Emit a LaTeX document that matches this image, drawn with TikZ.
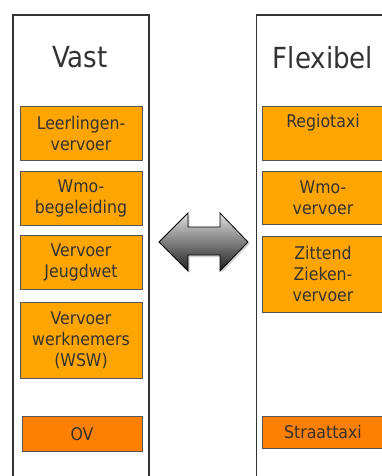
\documentclass[tikz,border=0pt]{standalone}
\usepackage{fontspec}
\setmainfont{DejaVu Sans Condensed}
\usetikzlibrary{shadows,shapes.misc}
\definecolor{boxfill}{HTML}{FFA500}
\definecolor{boxdark}{HTML}{FF7F00}
\definecolor{edge}{HTML}{555555}
\definecolor{ink}{HTML}{333333}
\definecolor{colline}{HTML}{333333}
\tikzset{
  x=1pt, y=-1pt,
  column/.style={draw=colline, line width=1.4pt, fill=white},
  heading/.style={text=ink, font=\fontsize{29}{34}\selectfont, inner sep=0pt},
  item/.style={draw=edge, line width=0.9pt, fill=boxfill},
  itemdark/.style={item, fill=boxdark},
  itemtext/.style={text=ink, font=\fontsize{17.5}{21}\selectfont, align=center, inner sep=0pt},
}
\begin{document}
\begin{tikzpicture}
\useasboundingbox (0,0) rectangle (382,476);
\clip (0,0) rectangle (382,476);

% the two columns
\draw[column] (13,15) rectangle (149,500);
\draw[column] (256.5,15) rectangle (420,500);
\node[heading] (vast) at (80,57) {Vast};
\node[heading] (flex) at (323,58) {Flexibel};

% fixed transport
\draw[item] (20,106) rectangle (142,160);
\node[itemtext] (lv) at (81,133) {Leerlingen-\\vervoer};
\draw[item] (20,171) rectangle (142,225);
\node[itemtext] (wb) at (81,198) {Wmo-\\begeleiding};
\draw[item] (20,235) rectangle (142,289);
\node[itemtext] (vj) at (81,262) {Vervoer\\Jeugdwet};
\draw[item] (20,302) rectangle (142,378);
\node[itemtext] (vw) at (81,340) {Vervoer\\werknemers\\(WSW)};
\draw[itemdark] (22,416) rectangle (142,451);
\node[itemtext] (ov) at (82,434) {OV};

% flexible transport
\draw[item] (262,106) rectangle (386,160);
\node[itemtext] (rt) at (323,123) {Regiotaxi};
\draw[item] (262,171) rectangle (386,224);
\node[itemtext] (wv) at (323,198) {Wmo-\\vervoer};
\draw[item] (262,236) rectangle (386,312);
\node[itemtext] (zz) at (323,274) {Zittend\\Zieken-\\vervoer};
\draw[itemdark] (262,416) rectangle (386,448);
\node[itemtext] (st) at (323,432) {Straattaxi};

% double arrow between the columns
\draw[draw=black, line width=0.8pt, top color=gray!25, bottom color=black!88,
      drop shadow={opacity=0.35, shadow xshift=1.5pt, shadow yshift=-2pt}]
  (159,242) -- (188,213) -- (188,227) -- (220,227) -- (220,213) -- (248,242)
  -- (220,271) -- (220,255) -- (188,255) -- (188,271) -- cycle;
\end{tikzpicture}
\end{document}
